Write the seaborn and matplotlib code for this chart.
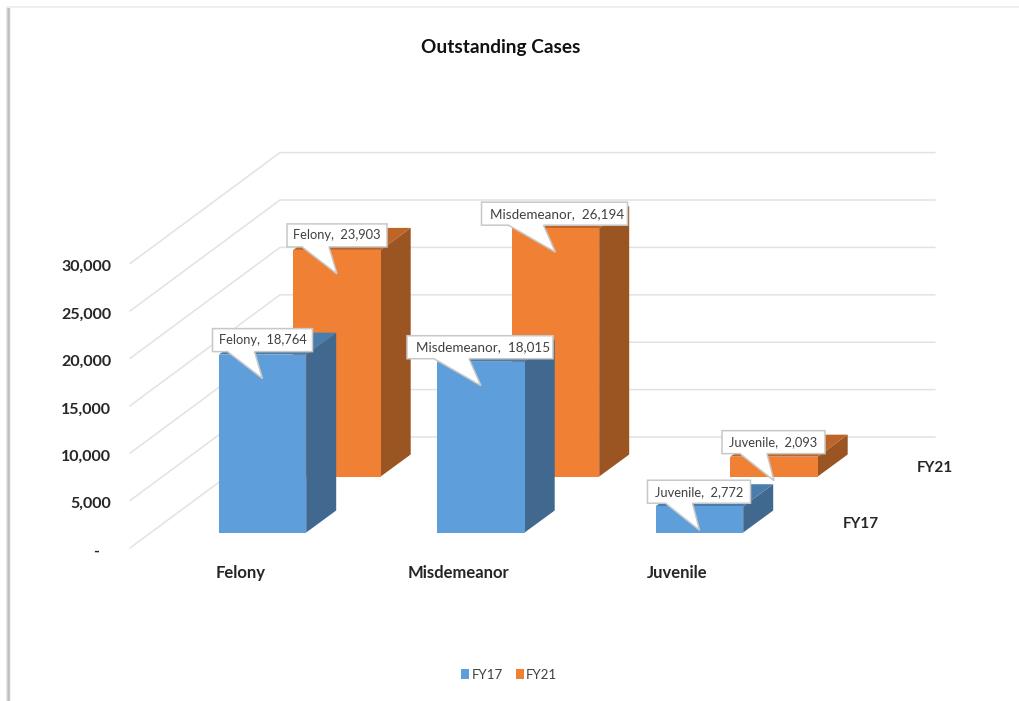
import numpy as np
import pandas as pd
import matplotlib
matplotlib.use("Agg")
import matplotlib.pyplot as plt
from matplotlib.patches import Polygon, Rectangle, Patch
from matplotlib.transforms import Affine2D
import seaborn as sns

# ---- data ----
categories = ["Felony", "Misdemeanor", "Juvenile"]
fy17_values = [18764, 18015, 2772]
fy21_values = [23903, 26194, 2093]
series_names = ["FY17", "FY21"]
y_ticks = [0, 5000, 10000, 15000, 20000, 25000, 30000]
y_tick_labels = ["-\u00a0\u00a0\u00a0", "5,000", "10,000", "15,000", "20,000", "25,000", "30,000"]

# ---- style / layout ----
sns.set_theme(style="white")
plt.rcParams["font.family"] = ["Lato", "DejaVu Sans"]
W, H = 1020, 701
SX, SY = 218.5, 0.00948        # px per category, px per case
X0, Y0 = 262.5, 532.5          # image px of first category centre / zero line
DEPTH_X, DEPTH_Y = 30, 22      # 3-D depth of a bar, px
SERIES_DX, SERIES_DY = 74.5, 56
BAR_W = 0.4
FRONT = {"FY17": "#5E9EDA", "FY21": "#F08134"}
SIDE = {"FY17": "#41688F", "FY21": "#9A5522"}
TOP = {"FY17": "#4A7DAC", "FY21": "#BE6428"}
GRID = "#E2E2E2"
DARK = "#262626"
LABEL = "#404040"
PT = 72 / 100                  # points per pixel

fig = plt.figure(figsize=(W / 100, H / 100), dpi=100, facecolor="white")
ax = fig.add_axes([0, 0, 1, 1])
ax.set_facecolor("none")


def dx(px):
    return px / SX


def dy(px):
    return px / SY


def xd(px):
    return (px - X0) / SX


def yd(py):
    return (Y0 - py) / SY


shifts = {"FY17": (0, 0), "FY21": (SERIES_DX, SERIES_DY)}
zs = {"FY17": 3.0, "FY21": 2.0}

# ---- bars (front faces), one seaborn call per series ----
for name, values in zip(series_names, [fy17_values, fy21_values]):
    df = pd.DataFrame({"category": categories, "cases": values})
    n_before = len(ax.patches)
    sns.barplot(data=df, x="category", y="cases", order=categories,
                color=FRONT[name], width=BAR_W, saturation=1, linewidth=0, ax=ax)
    ox, oy = shifts[name]
    for bar in ax.patches[n_before:]:
        bar.set_transform(ax.transData + Affine2D().translate(ox, oy))
        bar.set_zorder(zs[name] + 0.2)
        bar.set_clip_on(False)

ax.set_xlim(xd(0), xd(W))
ax.set_ylim(yd(H), yd(0))
ax.set_xlabel("")
ax.set_ylabel("")
for s in ax.spines.values():
    s.set_visible(False)

# ---- 3-D side and top faces ----
for name, values in zip(series_names, [fy17_values, fy21_values]):
    ox, oy = shifts[name]
    for i, v in enumerate(values):
        l = i - BAR_W / 2 + dx(ox)
        r = i + BAR_W / 2 + dx(ox)
        b = dy(oy)
        t = v + dy(oy)
        ddx, ddy = dx(DEPTH_X), dy(DEPTH_Y)
        ax.add_patch(Polygon([(r, b), (r + ddx, b + ddy), (r + ddx, t + ddy), (r, t)],
                             closed=True, fc=SIDE[name], ec="none", zorder=zs[name]))
        ax.add_patch(Polygon([(l, t), (r, t), (r + ddx, t + ddy), (l + ddx, t + ddy)],
                             closed=True, fc=TOP[name], ec="none", zorder=zs[name]))

# ---- back wall and side wall gridlines ----
for v in y_ticks:
    ys = [v + yd(548), v + yd(437), v + yd(437)]
    xs = [xd(130), xd(280), xd(935)]
    ax.plot(xs, ys, color=GRID, lw=1.1, zorder=1, solid_joinstyle="miter")

# ---- axis labels ----
ax.set_yticks([v + yd(550) for v in y_ticks], labels=y_tick_labels)
ax.tick_params(axis="y", length=0, pad=-111 * PT, labelsize=11.5, labelcolor=DARK)
for lab in ax.get_yticklabels():
    lab.set_fontweight("bold")
    lab.set_ha("right")
ax.set_xticks([i + dx(-22) for i in range(3)], labels=categories)
ax.tick_params(axis="x", length=0, pad=-136 * PT, labelsize=12, labelcolor=DARK)
for lab in ax.get_xticklabels():
    lab.set_fontweight("bold")
ax.text(xd(861), yd(524), series_names[0], ha="center", va="center",
        fontsize=11, fontweight="bold", color=DARK)
ax.text(xd(935), yd(468), series_names[1], ha="center", va="center",
        fontsize=11, fontweight="bold", color=DARK)

# ---- title ----
ax.text(xd(501), yd(48), "Outstanding Cases", ha="center", va="center",
        fontsize=13.7, fontweight="bold", color="#111111")

# ---- callouts ----
box_half = {"Felony": (50, 50), "Misdemeanor": (74, 72), "Juvenile": (52, 51)}
base_off = {"Felony": (-35, -8), "Misdemeanor": (-47, -12), "Juvenile": (-34, -7)}
for name, values in zip(series_names, [fy17_values, fy21_values]):
    ox, oy = shifts[name]
    z = 6 if name == "FY21" else 5
    for i, (cat, v) in enumerate(zip(categories, values)):
        tx = i + dx(ox)
        ty = v + dy(oy) - dy(24)
        hl, hr = box_half[cat]
        b0, b1 = base_off[cat]
        top_y, bot_y = ty + dy(50), ty + dy(27)
        pts = [(tx - dx(hl), top_y), (tx + dx(hr), top_y), (tx + dx(hr), bot_y),
               (tx + dx(b1), bot_y), (tx, ty), (tx + dx(b0), bot_y),
               (tx - dx(hl), bot_y)]
        ax.add_patch(Polygon(pts, closed=True, fc="white", ec="#C8C8C8", lw=1.1,
                             zorder=z, joinstyle="miter"))
        ax.text(tx + dx((hr - hl) / 2 + (3 if cat == "Misdemeanor" else 0)), ty + dy(38.5),
                f"{cat},  {v:,}", ha="center", va="center",
                fontsize=9.7 if cat == "Misdemeanor" else 9.3, color=LABEL, zorder=z + 0.5)

# ---- legend ----
ax.legend(handles=[Patch(fc=FRONT[n], ec="none", label=n) for n in series_names],
          loc="center", bbox_to_anchor=(509 / W, 1 - 675 / H), ncol=2,
          frameon=False, fontsize=9.5, handlelength=0.65, handleheight=0.8,
          handletextpad=0.15, columnspacing=1.0, labelcolor=LABEL, borderpad=0)

# ---- page shadow of the pasted picture ----
for x0, w, c in [(6, 1, "#E8E8E8"), (7, 1, "#D0D0D0"), (8, 1, "#BDBDBD"), (9, 1, "#C8C8C8"), (10, 1, "#EFEFEF")]:
    fig.add_artist(Rectangle((x0 / W, 0), w / W, 1 - 7 / H, transform=fig.transFigure,
                             fc=c, ec="none"))
fig.add_artist(Rectangle((7 / W, 1 - 7.5 / H), 1 - 7 / W, 2 / H, transform=fig.transFigure,
                         fc="#EEEEEE", ec="none"))

fig.savefig("out.png", dpi=100)
